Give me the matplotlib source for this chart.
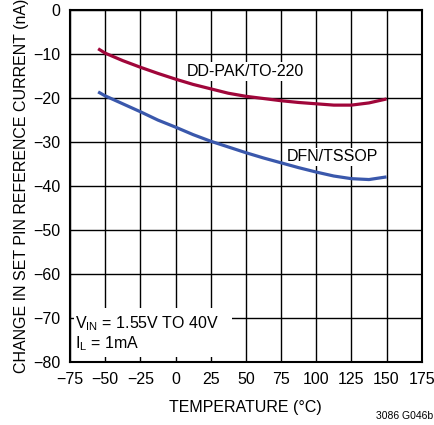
import matplotlib
matplotlib.use("Agg")
import matplotlib.pyplot as plt
from matplotlib.patches import Rectangle

plt.rcParams['font.family'] = ['Liberation Sans', 'DejaVu Sans']

temp = [-55, -50, -37.5, -25, -12.5, 0, 12.5, 25, 37.5, 50, 62.5, 75, 87.5, 100, 112.5, 125, 137.5, 150]
ddpak = [-8.8, -9.8, -11.5, -13.0, -14.4, -15.7, -16.9, -17.9, -18.9, -19.6, -20.1, -20.6, -21.0, -21.3,
         -21.6, -21.6, -21.1, -20.2]
dfn = [-18.6, -19.5, -21.3, -23.1, -25.0, -26.6, -28.3, -29.8, -31.1, -32.4, -33.6, -34.7, -35.8, -36.8,
       -37.7, -38.3, -38.5, -37.9]

xticks = [-75, -50, -25, 0, 25, 50, 75, 100, 125, 150, 175]
yticks = [0, -10, -20, -30, -40, -50, -60, -70, -80]


def lab(t):
    return '\u2212' + str(-t) if t < 0 else str(t)


fig = plt.figure(figsize=(4.34, 4.25), dpi=100)
ax = fig.add_axes([0.1613, 0.1475, 0.8104, 0.829])
ax.set_xlim(-75, 175)
ax.set_ylim(-80, 0)
ax.set_xticks(xticks)
ax.set_yticks(yticks)
ax.set_xticklabels([lab(t) for t in xticks])
ax.set_yticklabels([lab(t) for t in yticks])
ax.grid(True, color='black', linewidth=1.0)
ax.set_axisbelow(True)
ax.tick_params(length=0, labelsize=11.5)
ax.tick_params(axis='x', pad=7)
ax.tick_params(axis='y', pad=7)
for s in ax.spines.values():
    s.set_linewidth(1.5)

ax.plot(temp, ddpak, color='#A0063A', linewidth=2.3, solid_capstyle='butt', solid_joinstyle='round', zorder=5)
ax.plot(temp, dfn, color='#3A58AC', linewidth=2.3, solid_capstyle='butt', solid_joinstyle='round', zorder=5)

ax.text(49.5, -14.0, 'DD-PAK/TO-220', fontsize=11.5, ha='center', va='center',
        bbox=dict(facecolor='white', edgecolor='none', pad=1.5), zorder=4)
ax.text(111.5, -33.3, 'DFN/TSSOP', fontsize=11.5, ha='center', va='center',
        bbox=dict(facecolor='white', edgecolor='none', pad=1.0), zorder=4)

ax.add_patch(Rectangle((-72.5, -78.9), 112.5, 11.2, facecolor='white', edgecolor='none', zorder=1))
ax.text(-71.5, -73.4, '$\\mathregular{V_{IN}}$ = 1.55V TO 40V\n$\\mathregular{I_L}$ = 1mA', fontsize=11.5,
        ha='left', va='center', linespacing=1.1, zorder=4)

ax.set_xlabel('TEMPERATURE (\u00b0C)', fontsize=11.5, labelpad=9)
ax.set_ylabel('CHANGE IN SET PIN REFERENCE CURRENT (nA)', fontsize=11.5, labelpad=3)
fig.text(0.933, 0.01, '3086 G046b', fontsize=7.5, ha='center', va='bottom')

fig.savefig('out.png', dpi=100)
